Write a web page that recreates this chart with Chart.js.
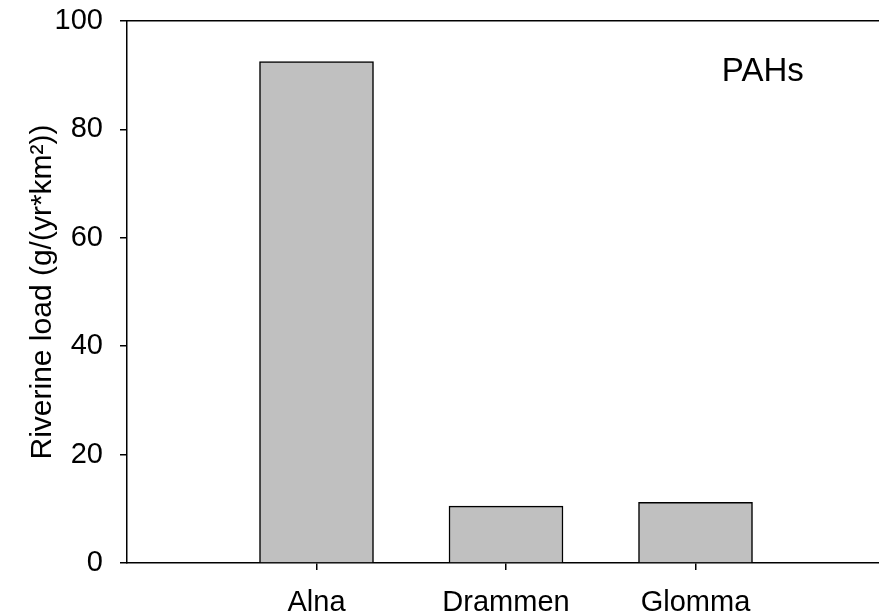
<!DOCTYPE html>
<html>
<head>
<meta charset="utf-8">
<script src="https://cdn.jsdelivr.net/npm/chart.js@4/dist/chart.umd.min.js"></script>
<style>
  html, body { margin: 0; padding: 0; background: #fff; overflow: hidden; }
  #chart { display: block; }
</style>
</head>
<body>
<canvas id="chart" width="885" height="615"></canvas>
<script>
// River names and PAH load per river
const rivers = ['Alna', 'Drammen', 'Glomma'];
const riverPos = [1, 2, 3];
const pahLoad = [92.5, 10.5, 11.2];
const yTicks = [0, 20, 40, 60, 80, 100];

const FONT = 'Liberation Sans, Arial, sans-serif';

// Label inside the plot, top right
const labelPlugin = {
    id: 'pahLabel',
    afterDraw(chart) {
        const ctx = chart.ctx;
        const x = chart.scales.x;
        const y = chart.scales.y;
        ctx.save();
        ctx.font = '33px ' + FONT;
        ctx.fillStyle = '#000';
        ctx.textAlign = 'center';
        ctx.textBaseline = 'alphabetic';
        ctx.fillText('PAHs', x.getPixelForValue(3.355), y.getPixelForValue(89));
        ctx.restore();
    }
};

const ctx = document.getElementById('chart').getContext('2d');
new Chart(ctx, {
    type: 'bar',
    data: {
        datasets: [{
            data: riverPos.map((p, i) => ({ x: p, y: pahLoad[i] })),
            backgroundColor: '#c0c0c0',
            borderColor: '#000',
            borderWidth: 1.5,
            barThickness: 114
        }]
    },
    options: {
        responsive: false,
        animation: false,
        layout: { padding: 0 },
        plugins: {
            legend: { display: false },
            tooltip: { enabled: false }
        },
        scales: {
            x: {
                type: 'linear',
                position: 'bottom',
                min: 0,
                max: 4,
                offset: false,
                afterBuildTicks: axis => { axis.ticks = riverPos.map(v => ({ value: v })); },
                afterFit: axis => { axis.height = 52; },
                ticks: {
                    callback: v => rivers[riverPos.indexOf(v)],
                    color: '#000',
                    font: { family: FONT, size: 29 },
                    padding: 16,
                    maxRotation: 0
                },
                grid: {
                    offset: false,
                    drawOnChartArea: false,
                    drawTicks: true,
                    tickLength: 7,
                    color: '#000',
                    lineWidth: 1.5
                },
                border: { display: true, color: '#000', width: 1.5 }
            },
            xTop: {
                type: 'linear',
                position: 'top',
                min: 0,
                max: 4,
                offset: false,
                afterBuildTicks: axis => { axis.ticks = []; },
                afterFit: axis => { axis.height = 21; },
                ticks: { display: false },
                grid: { display: false },
                border: { display: true, color: '#000', width: 1.5 }
            },
            y: {
                min: 0,
                max: 100,
                afterBuildTicks: axis => { axis.ticks = yTicks.map(v => ({ value: v })); },
                afterFit: axis => {
                    axis.width = 127;
                    axis.paddingTop = 0;
                    axis.paddingBottom = 0;
                },
                ticks: {
                    color: '#000',
                    font: { family: FONT, size: 29 },
                    padding: 17
                },
                grid: {
                    drawOnChartArea: false,
                    drawTicks: true,
                    tickLength: 7,
                    color: '#000',
                    lineWidth: 1.5
                },
                border: { display: true, color: '#000', width: 1.5 },
                title: {
                    display: true,
                    text: 'Riverine load (g/(yr*km²))',
                    color: '#000',
                    font: { family: FONT, size: 30 },
                    padding: { top: 25, bottom: 0 }
                }
            }
        }
    },
    plugins: [labelPlugin]
});
</script>
</body>
</html>
